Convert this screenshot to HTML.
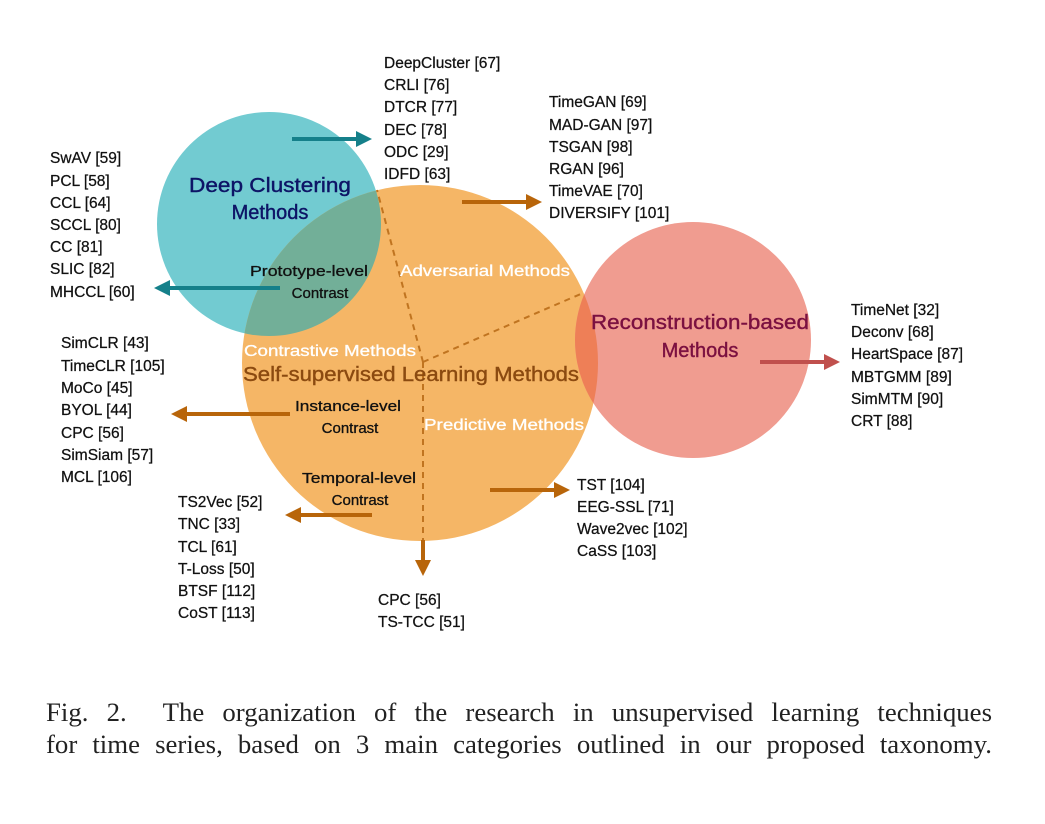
<!DOCTYPE html>
<html><head><meta charset="utf-8"><style>
body{margin:0;background:#fff;width:1045px;height:824px;overflow:hidden;position:relative}
svg{position:absolute;left:0;top:0}
.t{font-family:"Liberation Sans",sans-serif;font-size:15.5px;fill:#111;stroke:#111;stroke-width:0.25}
.cl{position:absolute;left:46px;width:946px;font-family:"Liberation Serif",serif;font-size:26.8px;line-height:32px;text-align:justify;text-align-last:justify;color:#222;white-space:nowrap}
</style></head><body>
<svg width="1045" height="824">
<defs>
<clipPath id="cTeal"><circle cx="269" cy="224" r="112"/></clipPath>
<clipPath id="cRed"><circle cx="693" cy="340" r="118"/></clipPath>
</defs>
<circle cx="269" cy="224" r="112" fill="#72CBD1"/>
<circle cx="420" cy="363" r="178" fill="#F5B666"/>
<circle cx="420" cy="363" r="178" fill="#72AF98" clip-path="url(#cTeal)"/>
<circle cx="693" cy="340" r="118" fill="#F09C90"/>
<circle cx="420" cy="363" r="178" fill="#EE7F57" clip-path="url(#cRed)"/>
<g stroke="#C07420" stroke-width="2" stroke-dasharray="6,5" fill="none">
<line x1="423" y1="362" x2="377" y2="190"/><line x1="423" y1="362" x2="583" y2="293"/><line x1="423" y1="362" x2="423" y2="545"/>
</g>
<g stroke-width="4">
<line x1="292" y1="139" x2="358" y2="139" stroke="#15808A"/><polygon points="356,131 372,139 356,147" fill="#15808A"/>
<line x1="280" y1="288" x2="168" y2="288" stroke="#15808A"/><polygon points="170,280 154,288 170,296" fill="#15808A"/>
<line x1="462" y1="202" x2="528" y2="202" stroke="#B8650A"/><polygon points="526,194 542,202 526,210" fill="#B8650A"/>
<line x1="290" y1="414" x2="185" y2="414" stroke="#B8650A"/><polygon points="187,406 171,414 187,422" fill="#B8650A"/>
<line x1="372" y1="515" x2="299" y2="515" stroke="#B8650A"/><polygon points="301,507 285,515 301,523" fill="#B8650A"/>
<line x1="490" y1="490" x2="556" y2="490" stroke="#B8650A"/><polygon points="554,482 570,490 554,498" fill="#B8650A"/>
<line x1="423" y1="540" x2="423" y2="562" stroke="#B8650A"/><polygon points="415,560 423,576 431,560" fill="#B8650A"/>
<line x1="760" y1="362" x2="826" y2="362" stroke="#C0504D"/><polygon points="824,354 840,362 824,370" fill="#C0504D"/>
</g>
<g font-family="Liberation Sans,sans-serif" text-anchor="middle">
<text x="270" y="192" font-size="20" fill="#0D1466" stroke="#0D1466" stroke-width="0.4" textLength="162" lengthAdjust="spacingAndGlyphs">Deep Clustering</text>
<text x="270" y="219" font-size="20" fill="#0D1466" stroke="#0D1466" stroke-width="0.4">Methods</text>
<text x="309" y="276" font-size="15" fill="#111" stroke="#111" stroke-width="0.3" textLength="118" lengthAdjust="spacingAndGlyphs">Prototype-level</text>
<text x="320" y="298" font-size="15" fill="#111" stroke="#111" stroke-width="0.3">Contrast</text>
<text x="485" y="276" font-size="15.5" fill="#fff" stroke="#fff" stroke-width="0.3" textLength="170" lengthAdjust="spacingAndGlyphs">Adversarial Methods</text>
<text x="330" y="356" font-size="15.5" fill="#fff" stroke="#fff" stroke-width="0.3" textLength="172" lengthAdjust="spacingAndGlyphs">Contrastive Methods</text>
<text x="411" y="381" font-size="20" fill="#8B4A10" stroke="#8B4A10" stroke-width="0.4" textLength="336" lengthAdjust="spacingAndGlyphs">Self-supervised Learning Methods</text>
<text x="348" y="411" font-size="15" fill="#111" stroke="#111" stroke-width="0.3" textLength="106" lengthAdjust="spacingAndGlyphs">Instance-level</text>
<text x="350" y="433" font-size="15" fill="#111" stroke="#111" stroke-width="0.3">Contrast</text>
<text x="504" y="430" font-size="15.5" fill="#fff" stroke="#fff" stroke-width="0.3" textLength="160" lengthAdjust="spacingAndGlyphs">Predictive Methods</text>
<text x="359" y="483" font-size="15" fill="#111" stroke="#111" stroke-width="0.3" textLength="114" lengthAdjust="spacingAndGlyphs">Temporal-level</text>
<text x="360" y="505" font-size="15" fill="#111" stroke="#111" stroke-width="0.3">Contrast</text>
<text x="700" y="329" font-size="20" fill="#7B1040" stroke="#7B1040" stroke-width="0.4" textLength="218" lengthAdjust="spacingAndGlyphs">Reconstruction-based</text>
<text x="700" y="357" font-size="20" fill="#7B1040" stroke="#7B1040" stroke-width="0.4">Methods</text>
</g>
<g class="t">
<g><text x="50" y="163">SwAV [59]</text><text x="50" y="186">PCL [58]</text><text x="50" y="208">CCL [64]</text><text x="50" y="230">SCCL [80]</text><text x="50" y="252">CC [81]</text><text x="50" y="274">SLIC [82]</text><text x="50" y="297">MHCCL [60]</text></g>
<g><text x="61" y="348">SimCLR [43]</text><text x="61" y="371">TimeCLR [105]</text><text x="61" y="393">MoCo [45]</text><text x="61" y="415">BYOL [44]</text><text x="61" y="438">CPC [56]</text><text x="61" y="460">SimSiam [57]</text><text x="61" y="482">MCL [106]</text></g>
<g><text x="178" y="507">TS2Vec [52]</text><text x="178" y="529">TNC [33]</text><text x="178" y="552">TCL [61]</text><text x="178" y="574">T-Loss [50]</text><text x="178" y="596">BTSF [112]</text><text x="178" y="618">CoST [113]</text></g>
<g><text x="384" y="68">DeepCluster [67]</text><text x="384" y="90">CRLI [76]</text><text x="384" y="112">DTCR [77]</text><text x="384" y="135">DEC [78]</text><text x="384" y="157">ODC [29]</text><text x="384" y="179">IDFD [63]</text></g>
<g><text x="549" y="107">TimeGAN [69]</text><text x="549" y="130">MAD-GAN [97]</text><text x="549" y="152">TSGAN [98]</text><text x="549" y="174">RGAN [96]</text><text x="549" y="196">TimeVAE [70]</text><text x="549" y="218">DIVERSIFY [101]</text></g>
<g><text x="851" y="315">TimeNet [32]</text><text x="851" y="337">Deconv [68]</text><text x="851" y="359">HeartSpace [87]</text><text x="851" y="382">MBTGMM [89]</text><text x="851" y="404">SimMTM [90]</text><text x="851" y="426">CRT [88]</text></g>
<g><text x="577" y="490">TST [104]</text><text x="577" y="512">EEG-SSL [71]</text><text x="577" y="534">Wave2vec [102]</text><text x="577" y="556">CaSS [103]</text></g>
<g><text x="378" y="605">CPC [56]</text><text x="378" y="627">TS-TCC [51]</text></g>
</g>
</svg>
<div class="cl" style="top:696px">Fig. 2.&nbsp; The organization of the research in unsupervised learning techniques</div>
<div class="cl" style="top:728px">for time series, based on 3 main categories outlined in our proposed taxonomy.</div>
</body></html>
